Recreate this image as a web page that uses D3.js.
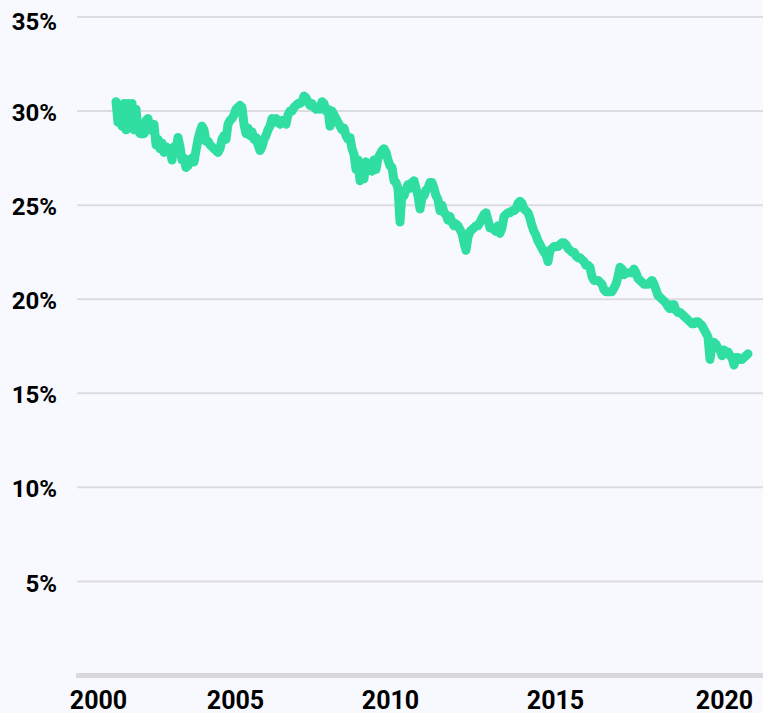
<!DOCTYPE html>
<html>
<head>
<meta charset="utf-8">
<script src="https://cdn.jsdelivr.net/npm/d3@7"></script>
<style>
  html, body { margin: 0; padding: 0; background: #f8f9fe; }
  svg { display: block; }
</style>
</head>
<body>
<svg id="chart" width="763" height="713"></svg>
<script>
// share in percent, one sample per step along the category axis
var share2000 = [
  30.5, 29.4, 30.0, 29.2, 30.4, 29.0, 30.4, 29.5, 30.4, 29.0,
  30.1, 29.0, 28.8, 28.8, 28.8, 29.5, 29.6, 29.0, 29.2, 29.3,
  28.2, 28.5, 28.0, 28.3, 27.8, 28.1, 27.9, 28.0, 27.4, 28.1,
  27.9, 28.6, 28.1, 27.4, 27.5, 27.0, 27.1, 27.4, 27.5, 27.3,
  27.9, 28.5, 28.9, 29.2, 29.0, 28.4, 28.4, 28.2, 28.1, 28.0,
  27.9, 27.8, 28.0, 28.5, 28.7, 28.5, 29.3, 29.5, 29.6, 29.8,
  30.1, 30.2
];
var share2005 = [
  30.3, 30.2, 29.3, 28.8, 29.1, 28.7, 28.9, 28.5, 28.6, 28.2,
  27.9, 28.1, 28.5, 28.7, 29.0, 29.2, 29.6, 29.4, 29.6, 29.5,
  29.3, 29.5, 29.5, 29.3, 29.8, 30.0, 30.0, 30.2, 30.3, 30.4,
  30.4, 30.5, 30.8, 30.7, 30.5, 30.3, 30.4, 30.2, 30.1, 30.2,
  30.1, 30.5, 30.4, 30.0, 30.1, 29.2, 30.0, 29.8, 29.6, 29.4,
  29.2, 29.0, 29.1, 28.7, 28.5, 28.6, 28.0, 27.7, 26.9, 27.4,
  26.3, 26.9, 26.4, 27.3, 27.0
];
var share2010 = [
  27.1, 26.8, 27.4, 26.9, 27.5, 27.7, 27.9, 28.0, 27.8, 27.4,
  27.1, 27.0, 26.3, 26.2, 25.9, 24.1, 25.7, 25.5, 25.8, 26.1,
  25.9, 26.2, 26.3, 25.9, 25.5, 24.8, 25.4, 25.5, 25.8, 25.9,
  26.2, 26.2, 25.9, 25.5, 25.3, 24.7, 25.0, 24.6, 24.5, 24.2,
  24.4, 24.1, 23.9, 24.0, 23.9, 23.7, 23.5, 23.0, 22.6, 23.3,
  23.6, 23.7, 23.8, 23.9, 23.9, 24.1, 24.3, 24.5, 24.6, 24.2,
  23.8, 23.8, 23.7, 23.6, 23.9
];
var share2014 = [
  23.5, 23.8, 24.4, 24.5, 24.6, 24.6, 24.7, 24.7, 24.8, 25.1,
  25.2, 25.1, 24.8, 24.7, 24.6, 24.3, 23.9, 23.6, 23.4, 23.1,
  22.9, 22.7, 22.5, 22.4, 22.0, 22.6, 22.7, 22.8, 22.8, 22.8,
  22.9, 23.0, 23.0, 22.9, 22.7, 22.6, 22.5, 22.5, 22.3, 22.2,
  22.2, 22.1, 22.0, 21.8, 21.8, 21.7, 21.2, 21.0, 21.0, 21.0,
  20.9, 20.8, 20.5, 20.4, 20.4, 20.4, 20.4, 20.6, 20.8, 21.2,
  21.7, 21.6, 21.3, 21.4, 21.4
];
var share2017 = [
  21.4, 21.4, 21.6, 21.4, 21.1, 21.0, 20.9, 20.8, 20.8, 20.8,
  20.9, 21.0, 20.8, 20.5, 20.2, 20.1, 20.0, 19.9, 19.8, 19.6,
  19.5, 19.7, 19.7, 19.4, 19.3, 19.3, 19.2, 19.1, 19.0, 18.9,
  18.8, 18.7, 18.7, 18.8, 18.8, 18.7, 18.6, 18.4, 18.2, 18.0,
  16.8, 17.6, 17.7, 17.6, 17.4, 17.3, 17.0, 17.3, 17.2, 17.2,
  17.0, 16.9, 16.5, 16.9, 16.9, 16.8, 16.8, 16.9, 17.0, 17.1
];
var values = [].concat(share2000, share2005, share2010, share2014, share2017);

// year labels and where they sit on the sample index
var yearLabels = ["2000", "2005", "2010", "2015", "2020"];
var yearTickIndex = [-9, 59.5, 137, 219.5, 304];

var yTicks = [5, 10, 15, 20, 25, 30, 35];

var width = 763, height = 713;
var plotLeft = 77, plotRight = 763;
var lineLeft = 116, lineRight = 748;
var plotTop = 17, plotBottom = 675.5;

var svg = d3.select("#chart");

svg.append("rect")
  .attr("width", width)
  .attr("height", height)
  .attr("fill", "#f8f9fe");

var x = d3.scaleLinear()
  .domain([0, values.length - 1])
  .range([lineLeft, lineRight]);

var y = d3.scaleLinear()
  .domain([0, 35])
  .range([plotBottom, plotTop]);

// grid
svg.append("g")
  .attr("class", "grid")
  .selectAll("line")
  .data(yTicks)
  .join("line")
  .attr("x1", plotLeft)
  .attr("x2", plotRight)
  .attr("y1", d => y(d))
  .attr("y2", d => y(d))
  .attr("stroke", "#dcdcdf")
  .attr("stroke-width", 2);

// baseline
svg.append("line")
  .attr("x1", plotLeft - 1)
  .attr("x2", plotRight)
  .attr("y1", y(0))
  .attr("y2", y(0))
  .attr("stroke", "#d9d9db")
  .attr("stroke-width", 5);

// y labels
var yAxis = svg.append("g")
  .attr("transform", `translate(${plotLeft},0)`)
  .call(d3.axisLeft(y).tickValues(yTicks).tickSize(0).tickPadding(20).tickFormat(d => d + "%"));
yAxis.select(".domain").remove();
yAxis.selectAll("text")
  .attr("font-family", "Roboto, 'Open Sans', sans-serif")
  .attr("font-weight", 700)
  .attr("font-size", 24)
  .attr("fill", "#000")
  .attr("dy", d => d === 35 ? "0.52em" : "0.4em");

// x labels
var xAxis = svg.append("g")
  .attr("transform", `translate(0,${plotBottom})`)
  .call(d3.axisBottom(x).tickValues(yearTickIndex).tickSize(0).tickPadding(0)
    .tickFormat((d, i) => yearLabels[i]));
xAxis.select(".domain").remove();
xAxis.selectAll("text")
  .attr("font-family", "Roboto, 'Open Sans', sans-serif")
  .attr("font-weight", 700)
  .attr("font-size", 25)
  .attr("fill", "#000")
  .attr("dy", null)
  .attr("y", 33);

var line = d3.line()
  .x((d, i) => x(i))
  .y(d => y(d));

svg.append("path")
  .datum(values)
  .attr("fill", "none")
  .attr("stroke", "#31dea1")
  .attr("stroke-width", 9)
  .attr("stroke-linejoin", "round")
  .attr("stroke-linecap", "round")
  .attr("d", line);
</script>
</body>
</html>
